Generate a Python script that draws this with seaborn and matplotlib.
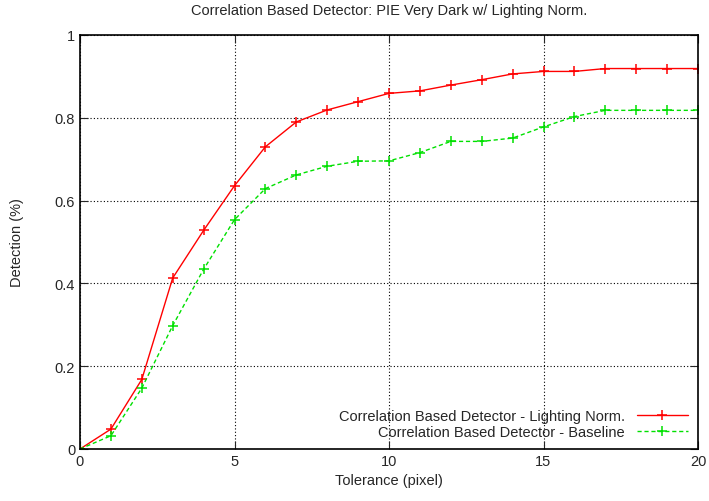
import matplotlib
matplotlib.use("Agg")
import matplotlib.pyplot as plt
import seaborn as sns

# Tolerance in pixels
tolerance = list(range(0, 21))

# Detection rates
lighting_norm = [0.0, 0.048, 0.168, 0.413, 0.528, 0.636, 0.730, 0.790, 0.819, 0.839,
                 0.859, 0.865, 0.879, 0.892, 0.906, 0.912, 0.912, 0.919, 0.919, 0.919, 0.919]
baseline = [0.0, 0.032, 0.147, 0.298, 0.434, 0.554, 0.629, 0.662, 0.683, 0.695,
            0.696, 0.716, 0.743, 0.743, 0.751, 0.778, 0.803, 0.818, 0.818, 0.818, 0.818]

series_names = ["Correlation Based Detector - Lighting Norm.",
                "Correlation Based Detector - Baseline"]

sns.set_style("ticks")
plt.rcParams["font.family"] = ["Liberation Sans", "DejaVu Sans"]

fig = plt.figure(figsize=(7.09, 5.02), dpi=100)
ax = fig.add_axes([80 / 709, 1 - 450 / 502, 618 / 709, 414 / 502])

sns.lineplot(x=tolerance, y=lighting_norm, color="#ff0000", linestyle="-",
             marker="+", markersize=7, markeredgewidth=1.1,
             markeredgecolor="#ff0000", linewidth=1.0,
             label=series_names[0], ax=ax)
sns.lineplot(x=tolerance, y=baseline, color="#00e000", linestyle=(0, (3, 2)),
             marker="+", markersize=7, markeredgewidth=1.1,
             markeredgecolor="#00e000", linewidth=1.0,
             label=series_names[1], ax=ax)

ax.set_xlim(0, 20)
ax.set_ylim(0, 1)
ax.set_xticks([0, 5, 10, 15, 20])
ax.set_yticks([0, 0.2, 0.4, 0.6, 0.8, 1.0])
ax.set_yticklabels(["0", "0.2", "0.4", "0.6", "0.8", "1"])
ax.grid(True, color="black", linestyle=(0, (1, 2)), linewidth=0.8)
ax.tick_params(direction="in", top=True, right=True, length=6, labelsize=10.5)
for s in ax.spines.values():
    s.set_linewidth(1.2)
    s.set_color("black")

ax.set_xlabel("Tolerance (pixel)", fontsize=10.5)
ax.set_ylabel("Detection (%)", fontsize=10.5, labelpad=22)
ax.set_title("Correlation Based Detector: PIE Very Dark w/ Lighting Norm.",
             fontsize=10.5, pad=15)

leg = ax.legend(loc="lower right", frameon=False, markerfirst=False, fontsize=10.5,
                handlelength=3.5, labelspacing=0.1, borderaxespad=0.3, numpoints=1)

fig.savefig("out.png", dpi=100, facecolor="white")
